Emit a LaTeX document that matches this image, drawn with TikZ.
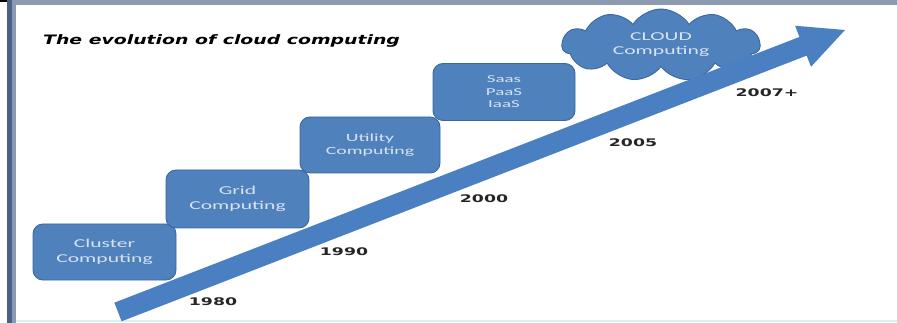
\documentclass[tikz,border=0pt]{standalone}
\usepackage{fontspec}
\usetikzlibrary{shapes.symbols,calc}
\newfontfamily\boxfont[FakeStretch=1.8]{Carlito}
\newfontfamily\yearfont[FakeStretch=1.65]{DejaVu Sans Bold}
\newfontfamily\titlefont[FakeStretch=1.45]{DejaVu Sans Bold Oblique}
\definecolor{boxblue}{HTML}{4F81BD}
\definecolor{boxline}{HTML}{3A67A2}
\definecolor{arrowblue}{HTML}{4A7FC1}
\definecolor{boxtext}{HTML}{D8E3F1}
\definecolor{topgray}{HTML}{8D9BB0}
\definecolor{leftdark}{HTML}{4A5F8A}
\definecolor{leftlight}{HTML}{8C9AB0}
\definecolor{cyanline}{HTML}{DDF1F5}
\tikzset{
  stage/.style={draw=boxline, fill=boxblue, rounded corners=10pt, line width=0.9pt,
    minimum width=143pt, minimum height=56pt, text=boxtext, align=center, inner sep=0pt,
    font=\boxfont\fontsize{12}{15}\selectfont},
  cloudnode/.style={cloud, cloud puffs=11, cloud puff arc=115, aspect=2.6,
    draw=boxline, fill=boxblue, line width=0.9pt, minimum width=198pt, minimum height=72pt,
    text=boxtext, align=center, inner sep=0pt, font=\boxfont\fontsize{12}{14}\selectfont},
  year/.style={font=\yearfont\fontsize{10.5}{12}\selectfont, text=black!85, inner sep=0pt},
}
\begin{document}
\begin{tikzpicture}[x=1pt,y=-1pt]
\useasboundingbox (0,0) rectangle (897,323);
\fill[white] (0,0) rectangle (897,323);
% frame
\fill[topgray] (7,0) rectangle (897,5);
\fill[black] (0,0) rectangle (7,2);
\fill[leftdark] (7,0) rectangle (11.5,323);
\fill[leftlight] (11.5,5) rectangle (15.5,323);
\fill[cyanline] (15.5,320) rectangle (897,322);
% title
\node[anchor=west, inner sep=0pt, font=\titlefont\fontsize{13}{15}\selectfont] (title) at (43,41) {The evolution of cloud computing};
% stages
\node[stage] (cluster) at (104.5,252) {Cluster\\Computing};
\node[stage, minimum height=58pt] (grid) at (237.5,199) {Grid\\Computing};
\node[stage, minimum width=140pt, font=\boxfont\fontsize{11}{13.5}\selectfont] (utility) at (370,145) {Utility\\Computing};
\node[stage, minimum width=142pt, minimum height=57pt, font=\boxfont\fontsize{10.5}{12.5}\selectfont] (saas) at (504,92) {Saas\\PaaS\\IaaS};
\node[cloudnode] (cloudc) at (661,45) {CLOUD\\Computing};
% arrow
\coordinate (tail) at (118,312);
\coordinate (tip) at (845,30);
\coordinate (back) at ($(tip)!45pt!(tail)$);
\fill[arrowblue]
  ($(tail)!10pt!90:(tip)$) -- ($(back)!10pt!-90:(tail)$) -- ($(back)!22pt!-90:(tail)$) --
  (tip) -- ($(back)!22pt!90:(tail)$) -- ($(back)!10pt!90:(tail)$) --
  ($(tail)!10pt!-90:(tip)$) -- cycle;
% years
\node[year] (y1980) at (213,302) {1980};
\node[year] (y1990) at (344,252) {1990};
\node[year] (y2000) at (484,199) {2000};
\node[year] (y2005) at (633,143) {2005};
\node[year] (y2007) at (767,93) {2007+};
\end{tikzpicture}
\end{document}
